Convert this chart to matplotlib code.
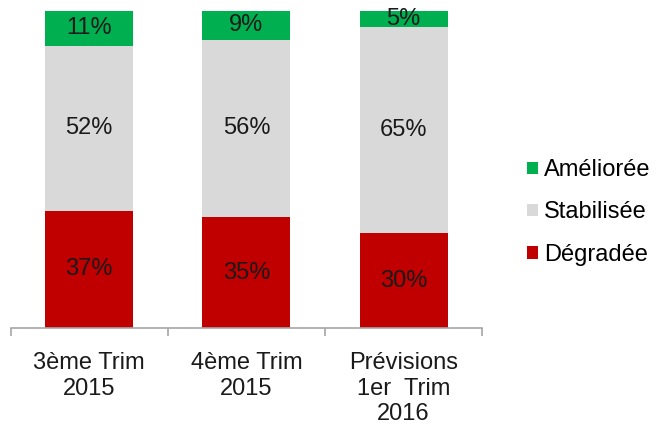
import matplotlib.pyplot as plt
import numpy as np

plt.rcParams['font.family'] = ['Liberation Sans', 'DejaVu Sans']

categories = ["3ème Trim\n2015", "4ème Trim\n2015", "Prévisions\n1er  Trim\n2016"]
degradee = [37, 35, 30]
stabilisee = [52, 56, 65]
amelioree = [11, 9, 5]

series = [("Dégradée", degradee, "#C00000"),
          ("Stabilisée", stabilisee, "#D9D9D9"),
          ("Améliorée", amelioree, "#00B050")]

fig = plt.figure(figsize=(6.57, 4.25), dpi=100)
ax = fig.add_axes([0.016, 0.228, 0.718, 0.746])

x = np.arange(len(categories))
bottom = np.zeros(len(categories))
handles = []
for name, vals, col in series:
    vals = np.array(vals, dtype=float)
    b = ax.bar(x, vals, 0.56, bottom=bottom, color=col, label=name)
    handles.append(b)
    for xi, v, bt in zip(x, vals, bottom):
        ax.text(xi, bt + v / 2, f"{int(v)}%", ha="center", va="center",
                fontsize=17, color="#1A1A1A")
    bottom += vals

ax.set_xlim(-0.5, 2.5)
ax.set_ylim(0, 100)
ax.set_yticks([])
for s in ["top", "right", "left"]:
    ax.spines[s].set_visible(False)
ax.spines["bottom"].set_color("#A6A6A6")
ax.spines["bottom"].set_linewidth(1.2)

# ticks between categories
ax.set_xticks([-0.5, 0.5, 1.5, 2.5])
ax.set_xticklabels([])
ax.tick_params(axis="x", length=6, color="#A6A6A6", width=1.2)
for xi, lab in zip(x, categories):
    ax.text(xi, -7.5, lab, ha="center", va="top", fontsize=17,
            color="#1A1A1A", linespacing=1.22)

leg = fig.legend(handles[::-1], [s[0] for s in series][::-1],
                 loc="center left", bbox_to_anchor=(0.77, 0.5),
                 frameon=False, fontsize=17, handlelength=0.45,
                 handleheight=0.45, handletextpad=0.25, labelspacing=0.85)

fig.savefig("out.png", dpi=100)
